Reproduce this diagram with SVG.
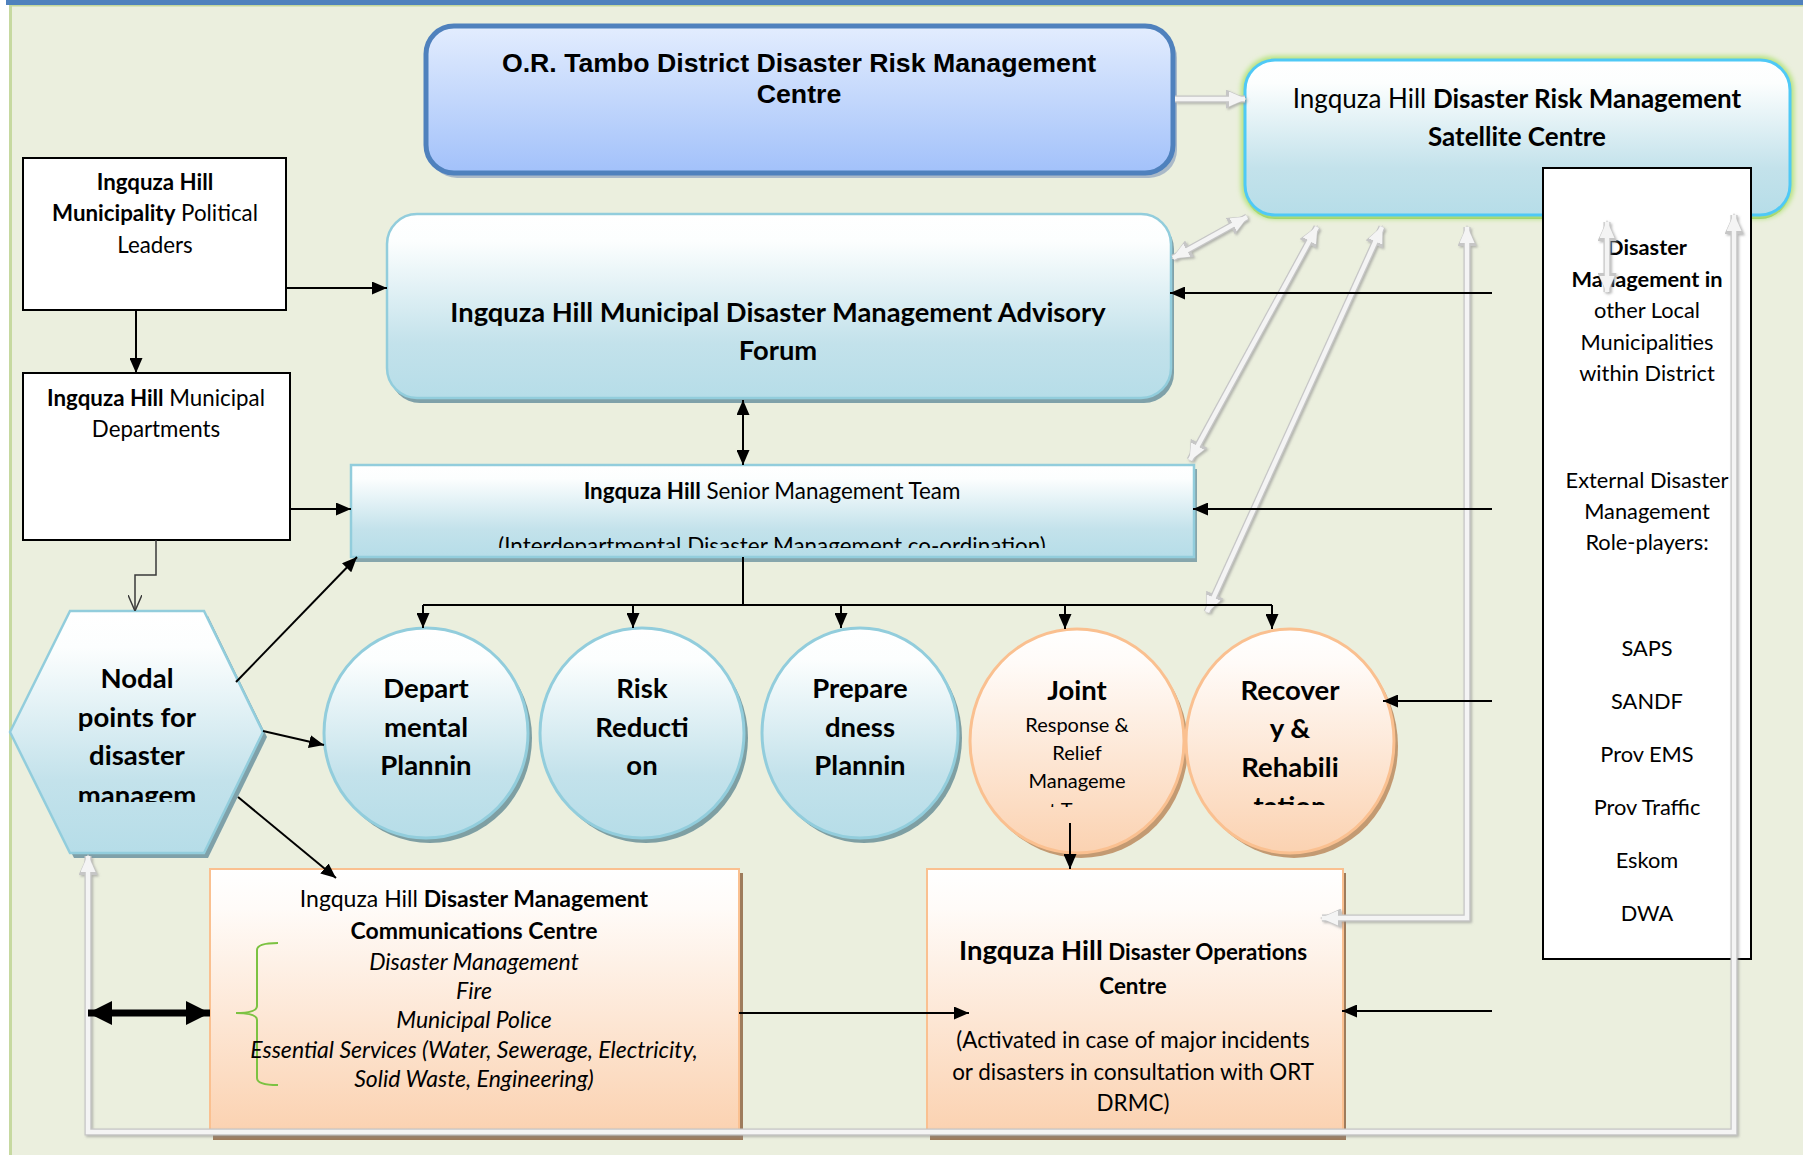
<svg xmlns="http://www.w3.org/2000/svg" width="1803" height="1155" viewBox="0 0 1803 1155">
<defs>
<style>
.t{font-family:Lato,"Open Sans","Liberation Sans",sans-serif;fill:#000;text-anchor:middle}
.b{font-weight:bold}
.i{font-style:italic}
.blk{stroke:#000;stroke-width:2;fill:none}
.gro{stroke:#c6c6c6;stroke-width:7;fill:none}
.gry{stroke:#f4f4f4;stroke-width:4.5;fill:none}
</style>
<linearGradient id="gBlue" x1="0" y1="0" x2="0" y2="1"><stop offset="0" stop-color="#e3edfe"/><stop offset="1" stop-color="#a2c1fa"/></linearGradient>
<linearGradient id="gCyan" x1="0" y1="0" x2="0" y2="1"><stop offset="0" stop-color="#ffffff"/><stop offset="0.15" stop-color="#fcfefe"/><stop offset="0.7" stop-color="#c3e2eb"/><stop offset="1" stop-color="#b6dde8"/></linearGradient>
<linearGradient id="gPeach" x1="0" y1="0" x2="0" y2="1"><stop offset="0" stop-color="#ffffff"/><stop offset="0.15" stop-color="#fffbf8"/><stop offset="1" stop-color="#fbd2b1"/></linearGradient>
<filter id="gs" filterUnits="userSpaceOnUse" x="0" y="0" width="1803" height="1155"><feDropShadow dx="1.5" dy="1.5" stdDeviation="1" flood-color="#8a8a8a" flood-opacity="0.6"/></filter>
<filter id="glow" filterUnits="userSpaceOnUse" x="1200" y="20" width="603" height="240"><feGaussianBlur stdDeviation="2.5"/></filter>
<marker id="ah" viewBox="0 0 15 13" refX="15" refY="6.5" markerWidth="15" markerHeight="13" markerUnits="userSpaceOnUse" orient="auto-start-reverse"><path d="M0,0 L15,6.5 L0,13 z" fill="#000"/></marker>
<marker id="ahBig" viewBox="0 0 24 24" refX="24" refY="12" markerWidth="24" markerHeight="24" markerUnits="userSpaceOnUse" orient="auto-start-reverse"><path d="M0,0 L24,12 L0,24 z" fill="#000"/></marker>
<marker id="oah" viewBox="0 0 14 16" refX="7" refY="16" markerWidth="14" markerHeight="16" markerUnits="userSpaceOnUse" orient="0"><path d="M0,0 L7,16 L14,0" fill="none" stroke="#3a3a3a" stroke-width="1.5"/></marker>
<marker id="gah" viewBox="0 0 17 15" refX="16" refY="7.5" markerWidth="17" markerHeight="15" markerUnits="userSpaceOnUse" orient="auto-start-reverse"><path d="M0,0 L17,7.5 L0,15 z" fill="#f4f4f4"/></marker>
<marker id="gao" viewBox="0 0 21 19" refX="19" refY="9.5" markerWidth="21" markerHeight="19" markerUnits="userSpaceOnUse" orient="auto-start-reverse"><path d="M0,0 L21,9.5 L0,19 z" fill="#c6c6c6"/></marker>
<clipPath id="cSenior"><rect x="351" y="465" width="843" height="83"/></clipPath>
<clipPath id="cNodal"><rect x="0" y="600" width="300" height="202"/></clipPath>
<clipPath id="cJoint"><rect x="960" y="620" width="240" height="187"/></clipPath>
<clipPath id="cRecov"><rect x="1180" y="620" width="220" height="185"/></clipPath>
<path id="g1" d="M1175,99 L1245,99"/>
<path id="g2" d="M1173,258 L1247,217"/>
<path id="g3" d="M1317,227 L1190,460"/>
<path id="g4" d="M1382,227 L1207,612"/>
<path id="g5" d="M1467,227 L1467,918 L1322,918"/>
<path id="g6" d="M88,856 L88,1132 L1734,1132 L1734,215"/>
<path id="g7" d="M1607,222 L1607,292"/>
</defs>

<rect x="0" y="0" width="1803" height="1155" fill="#ffffff"/>
<rect x="10" y="5" width="1793" height="1150" fill="#ebefde"/>
<rect x="9" y="5" width="3" height="1150" fill="#c6d9a0"/>
<rect x="9" y="4.5" width="1794" height="2" fill="#c4d79b"/>
<rect x="6" y="0" width="1797" height="5" fill="#4f81bd"/>

<g id="n-ortambo">
<rect x="429" y="30" width="748" height="148" rx="28" fill="#8fa3bf" opacity="0.7"/>
<rect x="426" y="26" width="747" height="147" rx="28" fill="url(#gBlue)" stroke="#4f81bd" stroke-width="5"/>
<text class="t b" font-size="26.7" style="font-family:'Liberation Sans',Arial,sans-serif"><tspan x="799" y="72">O.R. Tambo District Disaster Risk Management</tspan><tspan x="799" y="103">Centre</tspan></text>
</g>

<g id="n-satellite">
<rect x="1245" y="64" width="545" height="155" rx="30" fill="#8dc35f"/>
<rect x="1245" y="60" width="545" height="155" rx="30" fill="none" stroke="#b4e27c" stroke-width="8" filter="url(#glow)"/>
<rect x="1245" y="60" width="545" height="155" rx="30" fill="url(#gCyan)" stroke="#4fc9f6" stroke-width="3"/>
<text class="t" font-size="26"><tspan x="1517" y="108">Ingquza Hill <tspan class="b">Disaster Risk Management</tspan></tspan><tspan x="1517" y="146" class="b">Satellite Centre</tspan></text>
</g>

<g id="n-political">
<rect x="23" y="158" width="263" height="152" fill="#ffffff" stroke="#000" stroke-width="2"/>
<text class="t" font-size="22.3"><tspan x="155" y="190" class="b">Ingquza Hill</tspan><tspan x="155" y="221"><tspan class="b">Municipality</tspan> Political</tspan><tspan x="155" y="253">Leaders</tspan></text>
</g>

<g id="n-departments">
<rect x="23" y="373" width="267" height="167" fill="#ffffff" stroke="#000" stroke-width="2"/>
<text class="t" font-size="22.3"><tspan x="156" y="406"><tspan class="b">Ingquza Hill</tspan> Municipal</tspan><tspan x="156" y="437">Departments</tspan></text>
</g>

<g id="n-advisory">
<rect x="390" y="219" width="784" height="184" rx="30" fill="#7fa1a9"/>
<rect x="387" y="214" width="784" height="184" rx="30" fill="url(#gCyan)" stroke="#92cddc" stroke-width="2.5"/>
<text class="t b" font-size="27.3"><tspan x="778" y="322">Ingquza Hill Municipal Disaster Management Advisory</tspan><tspan x="778" y="360">Forum</tspan></text>
</g>

<g id="n-senior">
<rect x="354" y="469" width="843" height="93" fill="#86a6ac"/>
<rect x="351" y="465" width="843" height="92" fill="url(#gCyan)" stroke="#92cddc" stroke-width="2.5"/>
<text class="t" font-size="22.4" clip-path="url(#cSenior)"><tspan x="772" y="499"><tspan class="b">Ingquza Hill</tspan> Senior Management Team</tspan><tspan x="772" y="554">(Interdepartmental Disaster Management co-ordination)</tspan></text>
</g>

<g id="n-nodal">
<polygon points="14,737 74,616 208,616 267,737 208,858 74,858" fill="#7fa1a9"/>
<polygon points="10,732 70,611 204,611 263,732 204,853 70,853" fill="url(#gCyan)" stroke="#92cddc" stroke-width="2.5"/>
<text class="t b" font-size="27.5" clip-path="url(#cNodal)"><tspan x="137" y="688">Nodal</tspan><tspan x="137" y="727">points for</tspan><tspan x="137" y="765">disaster</tspan><tspan x="137" y="805">managem</tspan></text>
</g>

<g id="n-dept-planning">
<ellipse cx="430" cy="738" rx="102" ry="105" fill="#7e9fa3"/>
<ellipse cx="426" cy="733" rx="102" ry="105" fill="url(#gCyan)" stroke="#92cddc" stroke-width="3"/>
<text class="t b" font-size="27.5"><tspan x="426" y="698">Depart</tspan><tspan x="426" y="737">mental</tspan><tspan x="426" y="775">Plannin</tspan></text>
</g>

<g id="n-risk">
<ellipse cx="646" cy="738" rx="102" ry="105" fill="#7e9fa3"/>
<ellipse cx="642" cy="733" rx="102" ry="105" fill="url(#gCyan)" stroke="#92cddc" stroke-width="3"/>
<text class="t b" font-size="27.5"><tspan x="642" y="698">Risk</tspan><tspan x="642" y="737">Reducti</tspan><tspan x="642" y="775">on</tspan></text>
</g>

<g id="n-preparedness">
<ellipse cx="864" cy="738" rx="98" ry="105" fill="#7e9fa3"/>
<ellipse cx="860" cy="733" rx="98" ry="105" fill="url(#gCyan)" stroke="#92cddc" stroke-width="3"/>
<text class="t b" font-size="27.5"><tspan x="860" y="698">Prepare</tspan><tspan x="860" y="737">dness</tspan><tspan x="860" y="775">Plannin</tspan></text>
</g>

<g id="n-joint">
<ellipse cx="1081" cy="746" rx="107" ry="112" fill="#c39a72"/>
<ellipse cx="1077" cy="741" rx="107" ry="112" fill="url(#gPeach)" stroke="#fac090" stroke-width="3"/>
<text class="t" clip-path="url(#cJoint)"><tspan x="1077" y="700" class="b" font-size="27.5">Joint</tspan><tspan x="1077" y="732" font-size="20">Response &amp;</tspan><tspan x="1077" y="760" font-size="20">Relief</tspan><tspan x="1077" y="788" font-size="20">Manageme</tspan><tspan x="1077" y="817" font-size="20">nt Teams</tspan></text>
</g>

<g id="n-recovery">
<ellipse cx="1294" cy="746" rx="104" ry="112" fill="#c39a72"/>
<ellipse cx="1290" cy="741" rx="104" ry="112" fill="url(#gPeach)" stroke="#fac090" stroke-width="3"/>
<text class="t b" font-size="27.5" clip-path="url(#cRecov)"><tspan x="1290" y="700">Recover</tspan><tspan x="1290" y="738">y &amp;</tspan><tspan x="1290" y="777">Rehabili</tspan><tspan x="1290" y="816">tation</tspan></text>
</g>

<g id="n-comms">
<rect x="213" y="873" width="530" height="267" fill="#9e7c5c"/>
<rect x="210" y="869" width="529" height="262" fill="url(#gPeach)" stroke="#fac090" stroke-width="2"/>
<path d="M278,943 Q257,943 257,950 L257,1006 Q257,1013 236,1013 Q257,1013 257,1020 L257,1078 Q257,1085 278,1085" fill="none" stroke="#7cc242" stroke-width="2"/>
<text class="t" font-size="23"><tspan x="474" y="907">Ingquza Hill <tspan class="b">Disaster Management</tspan></tspan><tspan x="474" y="939" class="b">Communications Centre</tspan><tspan x="474" y="970" class="i">Disaster Management</tspan><tspan x="474" y="999" class="i">Fire</tspan><tspan x="474" y="1028" class="i">Municipal Police</tspan><tspan x="474" y="1058" class="i">Essential Services (Water, Sewerage, Electricity,</tspan><tspan x="474" y="1087" class="i">Solid Waste, Engineering)</tspan></text>
</g>

<g id="n-ops">
<rect x="930" y="873" width="416" height="267" fill="#9e7c5c"/>
<rect x="927" y="869" width="416" height="262" fill="url(#gPeach)" stroke="#fac090" stroke-width="2"/>
<text class="t" font-size="22.4"><tspan x="1133" y="960" class="b"><tspan font-size="27.5">Ingquza Hill</tspan> Disaster Operations</tspan><tspan x="1133" y="994" class="b">Centre</tspan><tspan x="1133" y="1048">(Activated in case of major incidents</tspan><tspan x="1133" y="1080">or disasters in consultation with ORT</tspan><tspan x="1133" y="1111">DRMC)</tspan></text>
</g>

<g id="n-external">
<rect x="1543" y="168" width="208" height="791" fill="#ffffff" stroke="#000" stroke-width="2"/>
<text class="t" font-size="21.8"><tspan x="1647" y="255" class="b">Disaster</tspan><tspan x="1647" y="287" class="b">Management in</tspan><tspan x="1647" y="318">other Local</tspan><tspan x="1647" y="350">Municipalities</tspan><tspan x="1647" y="381">within District</tspan><tspan x="1647" y="488">External Disaster</tspan><tspan x="1647" y="519">Management</tspan><tspan x="1647" y="550">Role-players:</tspan><tspan x="1647" y="656">SAPS</tspan><tspan x="1647" y="709">SANDF</tspan><tspan x="1647" y="762">Prov EMS</tspan><tspan x="1647" y="815">Prov Traffic</tspan><tspan x="1647" y="868">Eskom</tspan><tspan x="1647" y="921">DWA</tspan></text>
</g>

<g id="connectors">
<g class="gro" filter="url(#gs)">
<use href="#g1" marker-end="url(#gao)"/>
<use href="#g2" marker-start="url(#gao)" marker-end="url(#gao)"/>
<use href="#g3" marker-start="url(#gao)" marker-end="url(#gao)"/>
<use href="#g4" marker-start="url(#gao)" marker-end="url(#gao)"/>
<use href="#g5" marker-start="url(#gao)" marker-end="url(#gao)"/>
<use href="#g6" marker-start="url(#gao)" marker-end="url(#gao)"/>
<use href="#g7" marker-start="url(#gao)" marker-end="url(#gao)"/>
</g>
<g class="gry">
<use href="#g1" marker-end="url(#gah)"/>
<use href="#g2" marker-start="url(#gah)" marker-end="url(#gah)"/>
<use href="#g3" marker-start="url(#gah)" marker-end="url(#gah)"/>
<use href="#g4" marker-start="url(#gah)" marker-end="url(#gah)"/>
<use href="#g5" marker-start="url(#gah)" marker-end="url(#gah)"/>
<use href="#g6" marker-start="url(#gah)" marker-end="url(#gah)"/>
<use href="#g7" marker-start="url(#gah)" marker-end="url(#gah)"/>
</g>
<path class="blk" d="M286,288 L387,288" marker-end="url(#ah)"/>
<path class="blk" d="M136,310 L136,373" marker-end="url(#ah)"/>
<path class="blk" d="M290,509 L351,509" marker-end="url(#ah)"/>
<path d="M156,540 L156,575 L135,575 L135,611" fill="none" stroke="#3a3a3a" stroke-width="1.5" marker-end="url(#oah)"/>
<path class="blk" d="M743,400 L743,465" marker-start="url(#ah)" marker-end="url(#ah)"/>
<path class="blk" d="M236,682 L357,557" marker-end="url(#ah)"/>
<path class="blk" d="M263,731 L324,745" marker-end="url(#ah)"/>
<path class="blk" d="M238,797 L336,878" marker-end="url(#ah)"/>
<path class="blk" d="M743,557 L743,605 M423,605 L1272,605"/>
<path class="blk" d="M423,605 L423,628" marker-end="url(#ah)"/>
<path class="blk" d="M633,605 L633,628" marker-end="url(#ah)"/>
<path class="blk" d="M841,605 L841,628" marker-end="url(#ah)"/>
<path class="blk" d="M1065,605 L1065,629" marker-end="url(#ah)"/>
<path class="blk" d="M1272,605 L1272,629" marker-end="url(#ah)"/>
<path class="blk" d="M1070,823 L1070,869" marker-end="url(#ah)"/>
<path class="blk" d="M739,1013 L969,1013" marker-end="url(#ah)"/>
<path class="blk" d="M1492,293 L1170,293" marker-end="url(#ah)"/>
<path class="blk" d="M1492,509 L1193,509" marker-end="url(#ah)"/>
<path class="blk" d="M1492,701 L1383,701" marker-end="url(#ah)"/>
<path class="blk" d="M1492,1011 L1342,1011" marker-end="url(#ah)"/>
<path d="M88,1013 L210,1013" stroke="#000" stroke-width="7" fill="none" marker-start="url(#ahBig)" marker-end="url(#ahBig)"/>
</g>
</svg>
